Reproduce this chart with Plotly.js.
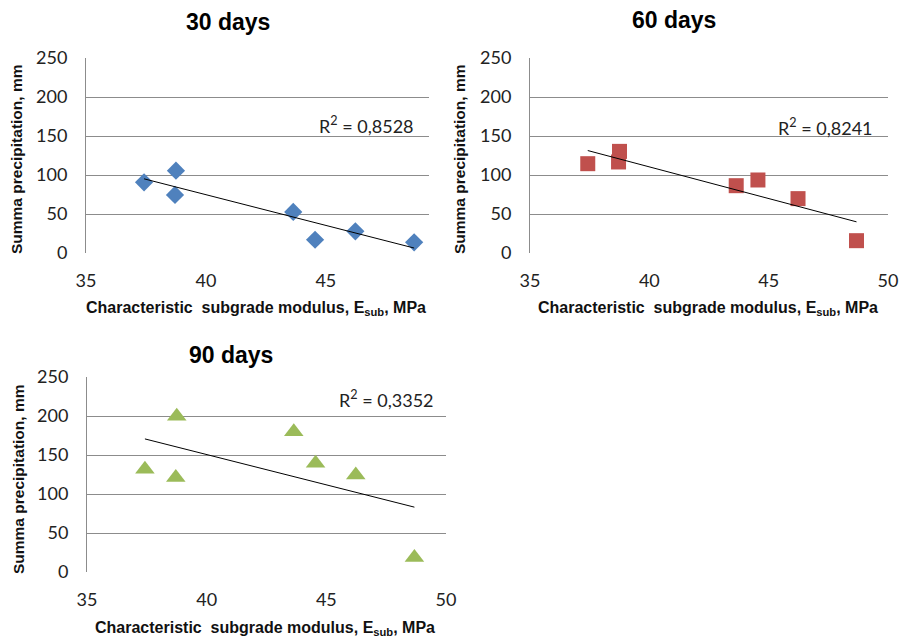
<!DOCTYPE html>
<html><head><meta charset="utf-8">
<script src="https://cdn.plot.ly/plotly-3.0.1.min.js"></script>
<style>html,body{margin:0;padding:0;background:#fff}#chart{width:902px;height:639px}</style>
</head><body><div id="chart"></div>
<script>
// Data
const modulusX = [37.42, 38.75, 38.71, 43.64, 44.55, 46.23, 48.68];
const precip30 = [90.6, 105.6, 74.4, 52.6, 17.0, 27.8, 13.7];
const precip60 = [114.5, 130.3, 116.7, 86.3, 93.6, 69.7, 15.8];
const precip90 = [131.6, 199.7, 121.0, 179.7, 139.3, 124.4, 18.7];
const panelTitles = ["30 days", "60 days", "90 days"];
const r2Labels = ["R<sup>2</sup> = 0,8528", "R<sup>2</sup> = 0,8241", "R<sup>2</sup> = 0,3352"];
const yTicks = [0, 50, 100, 150, 200, 250];
const xTicks30 = [35, 40, 45];
const xTicks = [35, 40, 45, 50];

function fit(x, y) {
  const n = x.length;
  const mx = x.reduce((a, b) => a + b, 0) / n;
  const my = y.reduce((a, b) => a + b, 0) / n;
  let sxy = 0, sxx = 0;
  for (let i = 0; i < n; i++) { sxy += (x[i] - mx) * (y[i] - my); sxx += (x[i] - mx) ** 2; }
  const b = sxy / sxx, a = my - b * mx;
  const xmin = Math.min(...x), xmax = Math.max(...x);
  return { x: [xmin, xmax], y: [a + b * xmin, a + b * xmax] };
}

const series = [precip30, precip60, precip90];
const colors = ["#4F81BD", "#C0504D", "#9BBB59"];
const symbols = ["diamond", "square", "triangle-up"];
const sizes = [14, 15, 17];
const axes = [["x", "y"], ["x2", "y2"], ["x3", "y3"]];

const traces = [];
series.forEach((s, i) => {
  traces.push({ x: modulusX, y: s, type: "scatter", mode: "markers", xaxis: axes[i][0], yaxis: axes[i][1],
    marker: { color: colors[i], symbol: symbols[i], size: sizes[i], line: { width: 0 } }, hoverinfo: "x+y", showlegend: false });
  const f = fit(modulusX, s);
  traces.push({ x: f.x, y: f.y, type: "scatter", mode: "lines", xaxis: axes[i][0], yaxis: axes[i][1],
    line: { color: "#000", width: 1 }, showlegend: false, hoverinfo: "skip" });
});

const W = 902, H = 639;
const px = v => v / W, py = v => 1 - v / H;
const tickFont = { family: "Lato, 'Open Sans', sans-serif", size: 18, color: "#222" };
function xa(l, r, range, ticks) {
  return { domain: [px(l), px(r)], range: range, tickvals: ticks, ticktext: ticks.map(String),
    showgrid: false, zeroline: false, showline: false, ticks: "outside", ticklen: 11, tickcolor: "rgba(0,0,0,0)",
    tickfont: tickFont, fixedrange: true };
}
function ya(t, b, anchor) {
  return { domain: [py(b), py(t)], range: [0, 250], tickvals: yTicks, showgrid: true, gridcolor: "#8c8c8c", gridwidth: 1,
    zeroline: false, showline: true, linecolor: "#8c8c8c", linewidth: 1, ticks: "outside", ticklen: 14,
    tickcolor: "rgba(0,0,0,0)", tickfont: tickFont, anchor: anchor, fixedrange: true };
}

const titleFont = { family: "'Liberation Sans', Arial, sans-serif", size: 23, color: "#000" };
const xTitleFont = { family: "'Liberation Sans', Arial, sans-serif", size: 16, color: "#111" };
const yTitleFont = { family: "'Liberation Sans', Arial, sans-serif", size: 15.5, color: "#111" };
const xTitle = "<b>Characteristic  subgrade modulus, E<sub>sub</sub>, MPa</b>";
const yTitle = "<b>Summa precipitation, mm</b>";
const r2Font = { family: "Lato, 'Open Sans', sans-serif", size: 18, color: "#222" };

const ann = [];
const tpos = [[228, 22], [674, 20], [231, 355]];
tpos.forEach((p, i) => ann.push({ xref: "paper", yref: "paper", x: px(p[0]), y: py(p[1]), text: "<b>" + panelTitles[i] + "</b>",
  showarrow: false, font: titleFont, xanchor: "center", yanchor: "middle" }));
const xtpos = [[256, 308], [708, 308], [265, 628]];
xtpos.forEach(p => ann.push({ xref: "paper", yref: "paper", x: px(p[0]), y: py(p[1]), text: xTitle,
  showarrow: false, font: xTitleFont, xanchor: "center", yanchor: "middle" }));
const ytpos = [[16, 160], [459, 160], [18, 480]];
ytpos.forEach(p => ann.push({ xref: "paper", yref: "paper", x: px(p[0]), y: py(p[1]), text: yTitle, textangle: -90,
  showarrow: false, font: yTitleFont, xanchor: "center", yanchor: "middle" }));
const rpos = [[366, 125], [825, 127], [386, 399]];
rpos.forEach((p, i) => ann.push({ xref: "paper", yref: "paper", x: px(p[0]), y: py(p[1]), text: r2Labels[i],
  showarrow: false, font: r2Font, xanchor: "center", yanchor: "middle" }));

const layout = {
  width: W, height: H, margin: { l: 0, r: 0, t: 0, b: 0 }, paper_bgcolor: "#fff", plot_bgcolor: "#fff",
  showlegend: false,
  xaxis: Object.assign(xa(86, 429, [35, 49.3], xTicks30), { anchor: "y" }),
  yaxis: ya(58, 253, "x"),
  xaxis2: Object.assign(xa(530, 888, [35, 50], xTicks), { anchor: "y2" }),
  yaxis2: ya(58, 253, "x2"),
  xaxis3: Object.assign(xa(87, 446, [35, 50], xTicks), { anchor: "y3" }),
  yaxis3: ya(377, 572, "x3"),
  annotations: ann
};
Plotly.newPlot("chart", traces, layout, { displayModeBar: false, staticPlot: true });
</script></body></html>
